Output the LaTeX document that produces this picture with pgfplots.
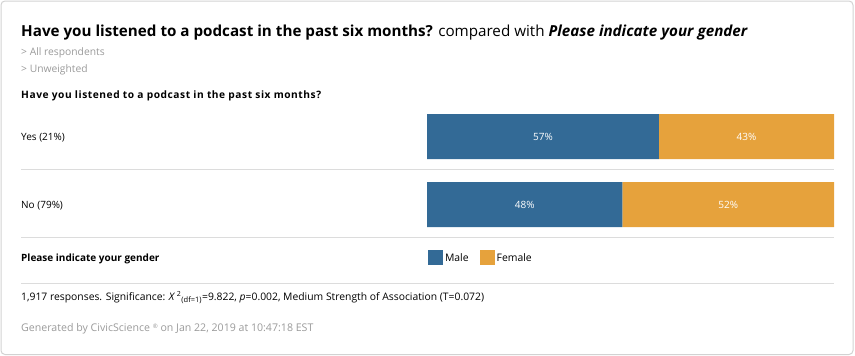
\documentclass[border=0pt]{standalone}
\usepackage{pgfplots}
\pgfplotsset{compat=1.18}
\usepackage{fontspec}
\setmainfont{Open Sans}
\definecolor{male}{HTML}{336A96}
\definecolor{female}{HTML}{E6A23C}
\definecolor{sepline}{HTML}{DCDCDC}
\definecolor{framec}{HTML}{D2D2D2}
\definecolor{graytxt}{HTML}{9A9A9A}
\begin{document}
\begin{tikzpicture}[x=1pt,y=1pt]
\useasboundingbox (0,0) rectangle (855,-356);
\draw[framec, line width=1pt, rounded corners=4pt] (1,-1) rectangle (853,-354.5);
% title
\node[anchor=base west, inner sep=0pt] at (21,-36.5) {\fontsize{15.2}{18}\selectfont\textbf{Have you listened to a podcast in the past six months?} compared with \textbf{\textit{Please indicate your gender}}};
\node[anchor=base west, inner sep=0pt, text=graytxt] at (21,-56) {\fontsize{10.3}{12}\selectfont > All respondents};
\node[anchor=base west, inner sep=0pt, text=graytxt] at (21,-72) {\fontsize{10.3}{12}\selectfont > Unweighted};
\node[anchor=base west, inner sep=0pt] at (21,-98.5) {\fontsize{10.2}{12}\selectfont\addfontfeatures{LetterSpace=5.4}\textbf{Have you listened to a podcast in the past six months?}};
\node[anchor=base west, inner sep=0pt] at (21,-140.5) {\fontsize{10}{12}\selectfont Yes (21\%)};
\node[anchor=base west, inner sep=0pt] at (21,-208.5) {\fontsize{10}{12}\selectfont No (79\%)};
\draw[sepline, line width=1pt] (21,-169.5) -- (834,-169.5);
\draw[sepline, line width=1pt] (21,-237.5) -- (834,-237.5);
\draw[sepline, line width=1pt] (21,-283.5) -- (834,-283.5);
\node[anchor=base west, inner sep=0pt] at (21,-261) {\fontsize{10}{12}\selectfont\textbf{Please indicate your gender}};
\node[anchor=base west, inner sep=0pt] at (21,-300.5) {\fontsize{10.35}{12}\selectfont 1,917 responses. Significance: \textit{X}\,$^{\mbox{\fontsize{7}{8}\selectfont 2}}$$_{\mbox{\fontsize{7.5}{8}\selectfont (df=1)}}$=9.822, \textit{p}=0.002, Medium Strength of Association (T=0.072)};
\node[anchor=base west, inner sep=0pt, text=graytxt] at (21,-331) {\fontsize{10.6}{12}\selectfont Generated by CivicScience \raisebox{2.5pt}{\fontsize{6}{6}\selectfont ®} on Jan 22, 2019 at 10:47:18 EST};
\begin{axis}[
  at={(427pt,-114pt)}, anchor=north west,
  scale only axis, width=407pt, height=113pt,
  xbar stacked, bar width=45pt,
  xmin=0, xmax=100, ymin=-0.3309, ymax=1.3309,
  y dir=reverse, axis lines=none, ticks=none,
  clip=false,
  legend columns=2,
  legend style={at={(0.002,-0.272)}, anchor=west, draw=none, inner sep=0pt,
    font=\fontsize{10.4}{12}\selectfont,
    /tikz/every even column/.append style={column sep=9pt}},
  legend image code/.code={\path[#1] (0pt,-6.5pt) rectangle (15pt,8.5pt);},
]
\addplot[fill=male, draw=none] coordinates {(57,0) (48,1)};
\addplot[fill=female, draw=none] coordinates {(43,0) (52,1)};
\legend{Male,Female}
\coordinate (a) at (axis cs:28.5,0);
\coordinate (b) at (axis cs:78.5,0);
\coordinate (c) at (axis cs:24,1);
\coordinate (d) at (axis cs:74,1);
\end{axis}
\foreach \p/\t in {a/57,b/43,c/48,d/52}
  \node[text=white, font=\fontsize{10}{12}\selectfont] at (\p) {\t\%};
\end{tikzpicture}
\end{document}
